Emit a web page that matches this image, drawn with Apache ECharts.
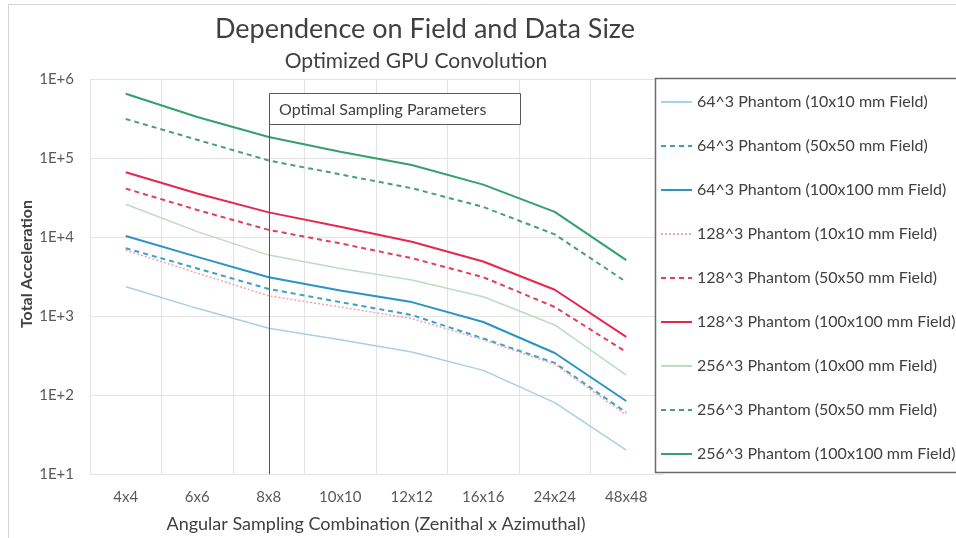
<!DOCTYPE html>
<html>
<head>
<meta charset="utf-8">
<script src="https://cdn.jsdelivr.net/npm/echarts@6/dist/echarts.min.js"></script>
<style>
  html, body { margin: 0; padding: 0; background: #ffffff; }
  #chart { width: 956px; height: 538px; }
</style>
</head>
<body>
<div id="chart"></div>
<script>
// Angular sampling combinations (zenithal x azimuthal)
const categories = ['4x4', '6x6', '8x8', '10x10', '12x12', '16x16', '24x24', '48x48'];

// Total acceleration per phantom size and field size
const p64_10   = [2350, 1250, 700, 500, 350, 205, 80, 20];
const p64_50   = [7200, 4000, 2200, 1500, 1030, 520, 255, 60];
const p64_100  = [10300, 5600, 3100, 2100, 1500, 840, 340, 84];
const p128_10  = [6800, 3500, 1800, 1300, 930, 500, 245, 56];
const p128_50  = [41000, 22000, 12300, 8300, 5400, 3100, 1300, 350];
const p128_100 = [66000, 35500, 20500, 13500, 8700, 4900, 2150, 545];
const p256_10  = [26000, 11700, 5900, 4000, 2850, 1750, 770, 178];
const p256_50  = [312000, 170000, 93000, 62000, 41500, 24000, 10800, 2700];
const p256_100 = [650000, 330000, 184000, 120000, 81500, 46000, 20800, 5100];

const seriesNames = [
  '64^3 Phantom (10x10 mm Field)',
  '64^3 Phantom (50x50 mm Field)',
  '64^3 Phantom (100x100 mm Field)',
  '128^3 Phantom (10x10 mm Field)',
  '128^3 Phantom (50x50 mm Field)',
  '128^3 Phantom (100x100 mm Field)',
  '256^3 Phantom (10x00 mm Field)',
  '256^3 Phantom (50x50 mm Field)',
  '256^3 Phantom (100x100 mm Field)'
];
const seriesData = [p64_10, p64_50, p64_100, p128_10, p128_50, p128_100, p256_10, p256_50, p256_100];

const yTicks = ['1E+1', '1E+2', '1E+3', '1E+4', '1E+5', '1E+6'];
const yTitle = 'Total Acceleration';
const annotationText = 'Optimal Sampling Parameters';
const annotationCategory = '8x8';

const styles = [
  { color: '#a9cfe6', width: 1.5, type: 'solid' },
  { color: '#3aa0c8', width: 2,   type: [5, 4] },
  { color: '#2b94c3', width: 2,   type: 'solid' },
  { color: '#f2a3ad', width: 1.5, type: [2, 2] },
  { color: '#e0405a', width: 2,   type: [5, 4] },
  { color: '#e8264e', width: 2,   type: 'solid' },
  { color: '#bcdcc4', width: 1.5, type: 'solid' },
  { color: '#4a9e7a', width: 2,   type: [5, 4] },
  { color: '#35a06a', width: 2,   type: 'solid' }
];

const FONT = 'Lato, "Open Sans", sans-serif';
const chart = echarts.init(document.getElementById('chart'), null, { renderer: 'canvas' });

const series = seriesNames.map((name, i) => ({
  name: name,
  type: 'line',
  data: seriesData[i],
  symbol: 'none',
  smooth: false,
  color: styles[i].color,
  lineStyle: { color: styles[i].color, width: styles[i].width, type: styles[i].type },
  z: 3
}));

// Frame, legend box and the vertical axis title
const graphics = [
  {
    type: 'rect', id: 'frame', silent: true, z: 0,
    shape: { x: 8.5, y: 4.5, width: 1000, height: 1000 },
    style: { fill: 'none', stroke: '#d4d4d4', lineWidth: 1 }
  },
  {
    type: 'rect', id: 'legendBox', silent: true, z: 1,
    shape: { x: 655.5, y: 78.5, width: 320, height: 394 },
    style: { fill: '#ffffff', stroke: '#6b6b6b', lineWidth: 1.5 }
  },
  {
    type: 'text', id: 'yTitle', silent: true, z: 2,
    x: 27, y: 264, rotation: Math.PI / 2,
    style: {
      text: yTitle, fontFamily: FONT, fontSize: 16, fontWeight: 'bold', fill: '#404040',
      align: 'center', verticalAlign: 'middle'
    }
  }
];

chart.setOption({
  backgroundColor: '#ffffff',
  animation: false,
  title: [
    {
      text: 'Dependence on Field and Data Size',
      left: 420, top: 11, textAlign: 'center',
      textStyle: { fontFamily: FONT, fontSize: 27, fontWeight: 'normal', color: '#404040' }
    },
    {
      text: 'Optimized GPU Convolution',
      left: 411, top: 46, textAlign: 'center',
      textStyle: { fontFamily: FONT, fontSize: 21, fontWeight: 'normal', color: '#404040' }
    }
  ],
  grid: { left: 90, right: 294, top: 79, bottom: 64, containLabel: false },
  xAxis: {
    type: 'category',
    data: categories,
    boundaryGap: true,
    name: 'Angular Sampling Combination (Zenithal x Azimuthal)',
    nameLocation: 'middle',
    nameGap: 41,
    nameTextStyle: { fontFamily: FONT, fontSize: 18, color: '#404040' },
    axisLine: { show: true, lineStyle: { color: '#e3e3e3', width: 1 } },
    axisTick: { show: false },
    axisLabel: { fontFamily: FONT, fontSize: 15, color: '#595959', margin: 16 },
    splitLine: { show: true, interval: 0, lineStyle: { color: '#e3e3e3', width: 1 } }
  },
  yAxis: {
    type: 'log',
    logBase: 10,
    min: 10,
    max: 1000000,
    axisLine: { show: false },
    axisTick: { show: false },
    axisLabel: {
      fontFamily: FONT, fontSize: 15, color: '#595959', margin: 16,
      formatter: v => yTicks[Math.round(Math.log10(v)) - 1]
    },
    splitLine: { show: true, lineStyle: { color: '#e3e3e3', width: 1 } }
  },
  legend: {
    orient: 'vertical',
    left: 660,
    top: 94,
    padding: 0,
    itemWidth: 31,
    itemHeight: 14,
    itemGap: 28,
    z: 5,
    itemStyle: { opacity: 0 },
    textStyle: { fontFamily: FONT, fontSize: 16, color: '#404040' },
    data: seriesNames
  },
  graphic: graphics,
  series: series
});

function drawAnnotation() {
  const gridRect = chart.getModel().getComponent('grid', 0).coordinateSystem.getRect();
  const xPix = Math.round(chart.convertToPixel({ xAxisIndex: 0 }, annotationCategory)) + 0.5;
  const boxTop = gridRect.y + 14.5;
  const boxH = 31;
  const boxW = 251;
  chart.setOption({
    graphic: graphics.concat([
      {
        type: 'line', id: 'marker', silent: true, z: 5,
        shape: { x1: xPix, y1: boxTop, x2: xPix, y2: gridRect.y + gridRect.height },
        style: { stroke: '#595959', lineWidth: 1 }
      },
      {
        type: 'rect', id: 'noteBox', silent: true, z: 6,
        shape: { x: xPix, y: boxTop, width: boxW, height: boxH },
        style: { fill: '#ffffff', stroke: '#595959', lineWidth: 1 }
      },
      {
        type: 'text', id: 'noteText', silent: true, z: 7,
        x: xPix + 9.5, y: boxTop + boxH / 2 + 1,
        style: {
          text: annotationText, fontFamily: FONT, fontSize: 16, fill: '#404040',
          verticalAlign: 'middle', align: 'left'
        }
      }
    ])
  });
}
drawAnnotation();
</script>
</body>
</html>
